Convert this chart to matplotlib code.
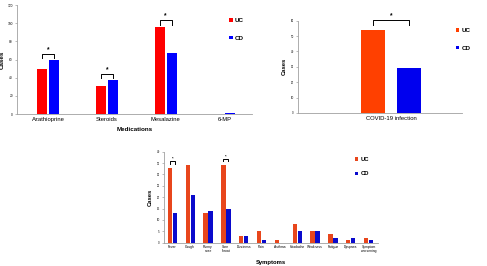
import matplotlib
matplotlib.use("Agg")
import matplotlib.pyplot as plt
import numpy as np

plt.rcParams["font.family"] = ["Liberation Sans", "DejaVu Sans"]

# medications (top left)
med_labels = ["Azathioprine", "Steroids", "Mesalazine", "6-MP"]
med_uc = [49, 31, 96, 0]
med_cd = [59, 37, 67, 1]
med_sig = [0, 1, 2]

# covid infection (top right)
covid_labels = ["COVID-19 infection"]
covid_uc = [54]
covid_cd = [29]
covid_sig = [0]

# symptoms (bottom)
sym_labels = ["Fever", "Cough", "Runny\nnose", "Sore\nthroat", "Dizziness", "Pain",
              "Asthma", "Headache", "Weakness", "Fatigue", "Dyspnea", "Symptom\nworsening"]
sym_uc = [33, 34, 13, 34, 3, 5, 1, 8, 5, 4, 1, 2]
sym_cd = [13, 21, 14, 15, 3, 1, 0, 5, 5, 2, 2, 1]
sym_sig = [0, 3]

SPINE = "#a0a0a0"


def style_axes(ax, ymax, step, tick_fs):
    for s in ("top", "right"):
        ax.spines[s].set_visible(False)
    for s in ("left", "bottom"):
        ax.spines[s].set_color(SPINE)
        ax.spines[s].set_linewidth(0.6)
    ax.set_ylim(0, ymax)
    ax.set_yticks(np.arange(0, ymax + 1, step))
    ax.tick_params(axis="y", labelsize=tick_fs, length=1.5, width=0.5, color=SPINE, pad=1.5)
    ax.tick_params(axis="x", length=0, pad=2)


def grouped(ax, labels, uc, cd, sig, width, offset, c_uc, c_cd, bump, leg, lab_fs):
    x = np.arange(len(labels))
    ax.bar(x - offset, uc, width, color=c_uc, label="UC")
    ax.bar(x + offset, cd, width, color=c_cd, label="CD")
    ax.set_xticks(x)
    ax.set_xticklabels(labels, fontsize=lab_fs, linespacing=0.9)
    # significance brackets
    for i in sig:
        top = max(uc[i], cd[i]) + bump
        ax.plot([i - offset, i - offset, i + offset, i + offset],
                [top - leg, top, top, top - leg], color="black", lw=0.7, clip_on=False)
        ax.text(i, top + leg * 0.1, "*", ha="center", va="bottom",
                fontsize=lab_fs + 0.5, fontweight="bold", clip_on=False)


fig = plt.figure(figsize=(4.87, 2.66), dpi=100)

# top left
ax1 = fig.add_axes([0.0349, 0.5714, 0.4826, 0.4098])
grouped(ax1, med_labels, med_uc, med_cd, med_sig, 0.17, 0.1,
        "#ff0000", "#0000ff", 7.5, 5, 4.2)
style_axes(ax1, 120, 20, 2.3)
ax1.set_xlim(-0.53, 3.47)
ax1.set_ylabel("Cases", fontsize=4.5, fontweight="bold", labelpad=2)
ax1.set_xlabel("Medications", fontsize=4.5, fontweight="bold", labelpad=4)
ax1.legend(loc="upper left", bbox_to_anchor=(0.88, 0.93), frameon=False,
           handlelength=0.5, handleheight=0.5, handletextpad=0.4,
           labelspacing=2.0, prop={"weight": "bold", "size": 4.5})

# top right
ax2 = fig.add_axes([0.6119, 0.5752, 0.3368, 0.3470])
grouped(ax2, covid_labels, covid_uc, covid_cd, covid_sig, 0.29, 0.22,
        "#ff4000", "#0000ee", 6.5, 3.5, 4.2)
style_axes(ax2, 60, 10, 2.0)
ax2.set_xlim(-1.134, 0.866)
ax2.set_ylabel("Cases", fontsize=4.2, fontweight="bold", labelpad=3)
ax2.legend(loc="upper left", bbox_to_anchor=(0.93, 0.98), frameon=False,
           handlelength=0.5, handleheight=0.5, handletextpad=0.4,
           labelspacing=2.0, prop={"weight": "bold", "size": 4.5})

# bottom
ax3 = fig.add_axes([0.3368, 0.0876, 0.4394, 0.3421])
grouped(ax3, sym_labels, sym_uc, sym_cd, sym_sig, 0.24, 0.14,
        "#e8461c", "#0a0acc", 3, 1.2, 2.4)
style_axes(ax3, 40, 5, 2.0)
ax3.set_xlim(-0.47, 11.53)
ax3.set_ylabel("Cases", fontsize=4.2, fontweight="bold", labelpad=3)
ax3.set_xlabel("Symptoms", fontsize=4.2, fontweight="bold", labelpad=5)
ax3.legend(loc="upper left", bbox_to_anchor=(0.87, 1.0), frameon=False,
           handlelength=0.5, handleheight=0.5, handletextpad=0.4,
           labelspacing=1.6, prop={"weight": "bold", "size": 4.2})

fig.savefig("out.png", dpi=100)
